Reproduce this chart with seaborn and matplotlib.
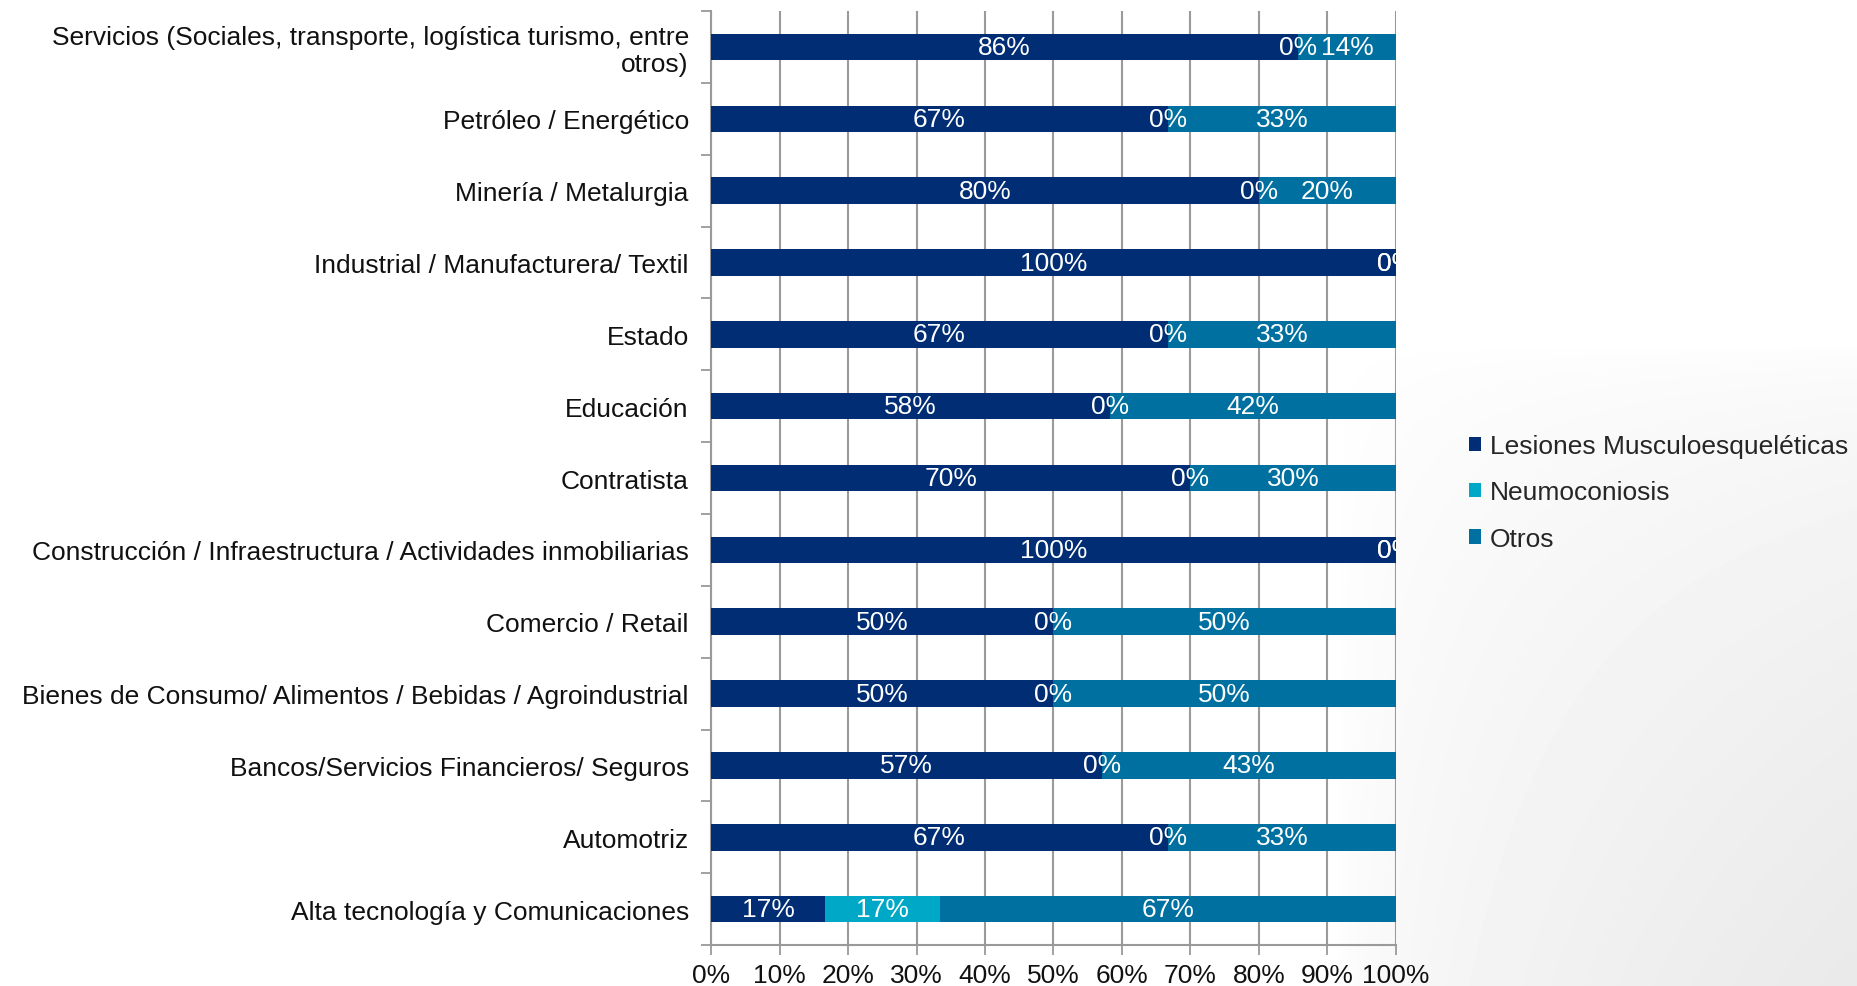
import matplotlib
matplotlib.use("Agg")
import matplotlib.pyplot as plt
import seaborn as sns
import pandas as pd
import numpy as np
from matplotlib.patches import Patch
from matplotlib import font_manager

categories = [
    "Servicios (Sociales, transporte, logística turismo, entre\notros)",
    "Petróleo / Energético",
    "Minería / Metalurgia",
    "Industrial / Manufacturera/ Textil",
    "Estado",
    "Educación",
    "Contratista",
    "Construcción / Infraestructura / Actividades inmobiliarias",
    "Comercio / Retail",
    "Bienes de Consumo/ Alimentos / Bebidas / Agroindustrial",
    "Bancos/Servicios Financieros/ Seguros",
    "Automotriz",
    "Alta tecnología y Comunicaciones",
]
lesiones = [85.7, 66.7, 80.0, 100.0, 66.7, 58.3, 70.0, 100.0, 50.0, 50.0, 57.1, 66.7, 16.7]
neumoconiosis = [0, 0, 0, 0, 0, 0, 0, 0, 0, 0, 0, 0, 16.7]
otros = [14.3, 33.3, 20.0, 0, 33.3, 41.7, 30.0, 0, 50.0, 50.0, 42.9, 33.3, 66.6]
series_names = ["Lesiones Musculoesqueléticas", "Neumoconiosis", "Otros"]
colors = ["#002D74", "#00A8C8", "#0070A0"]

sns.set_theme(style="white")
names = {f.name for f in font_manager.fontManager.ttflist}
narrow = "Liberation Sans Narrow" in names
plt.rcParams['font.family'] = ['Liberation Sans Narrow', 'Liberation Sans', 'DejaVu Sans']
fs = 23 if narrow else 19

df = pd.DataFrame({"cat": categories, "L": lesiones, "N": neumoconiosis, "O": otros})
df["c1"] = df["L"]
df["c2"] = df["L"] + df["N"]
df["c3"] = df["L"] + df["N"] + df["O"]

fig = plt.figure(figsize=(18.58, 9.87), dpi=100)

# very faint background gradient (bottom-right)
bg = fig.add_axes([0, 0, 1, 1], zorder=-10)
bg.set_axis_off()
gx, gy = np.meshgrid(np.linspace(0, 1, 400), np.linspace(0, 1, 200))
shade = np.clip((gx - 0.72) / 0.28, 0, 1) * np.clip((0.65 - gy) / 0.65, 0, 1)
shade = np.sqrt(shade)
img = 1.0 - 0.085 * shade
bg.imshow(img, extent=[0, 1, 0, 1], origin="lower", cmap="gray", vmin=0, vmax=1,
          aspect="auto", interpolation="bilinear")
bg.set_xlim(0, 1)
bg.set_ylim(0, 1)

ax = fig.add_axes([0.3827, 0.0415, 0.7513 - 0.3827, 0.9878 - 0.0415])
ax.patch.set_alpha(0)

bw = 0.37
for col, c in zip(["c3", "c2", "c1"], [colors[2], colors[1], colors[0]]):
    sns.barplot(data=df, x=col, y="cat", color=c, width=bw, ax=ax,
                orient="h", edgecolor="none", linewidth=0, saturation=1, zorder=3)

ax.set_xlim(0, 100)
ax.set_ylim(len(categories) - 0.5, -0.5)
ax.set_xlabel("")
ax.set_ylabel("")
ax.set_xticks(np.arange(0, 101, 10))
ax.set_xticklabels([f"{v}%" for v in range(0, 101, 10)], fontsize=fs, color="#111111")
ax.tick_params(axis="x", direction="out", length=7, width=1.3, color="#9A9A9A", pad=6, bottom=True)
ax.tick_params(axis="y", which="major", length=0, pad=16, labelsize=fs, labelcolor="#111111")
ax.set_yticks(np.arange(-0.5, len(categories), 1), minor=True)
ax.tick_params(axis="y", which="minor", direction="out", length=7, width=1.3, color="#9A9A9A", left=True)
for lab in ax.get_yticklabels():
    lab.set_horizontalalignment("right")
    lab.set_multialignment("right")
    lab.set_linespacing(1.15)

ax.grid(axis="x", color="#9A9A9A", linewidth=1.5, zorder=0)
ax.set_axisbelow(True)
for s in ["top", "right"]:
    ax.spines[s].set_visible(False)
for s in ["left", "bottom"]:
    ax.spines[s].set_color("#9A9A9A")
    ax.spines[s].set_linewidth(1.5)

# labels
for i, row in df.iterrows():
    segs = [(row["L"], 0), (row["N"], row["L"]), (row["O"], row["L"] + row["N"])]
    for val, start in segs:
        ax.text(start + val / 2, i, f"{round(val):.0f}%", ha="center", va="center",
                color="white", fontsize=fs, zorder=5, clip_on=True)

handles = [Patch(facecolor=c, edgecolor="none") for c in colors]
fig.legend(handles, series_names, loc="center left", bbox_to_anchor=(0.785, 0.5),
           frameon=False, fontsize=fs, handlelength=0.45, handleheight=0.45,
           handletextpad=0.35, labelspacing=0.85, borderaxespad=0)

fig.savefig("out.png", dpi=100)
